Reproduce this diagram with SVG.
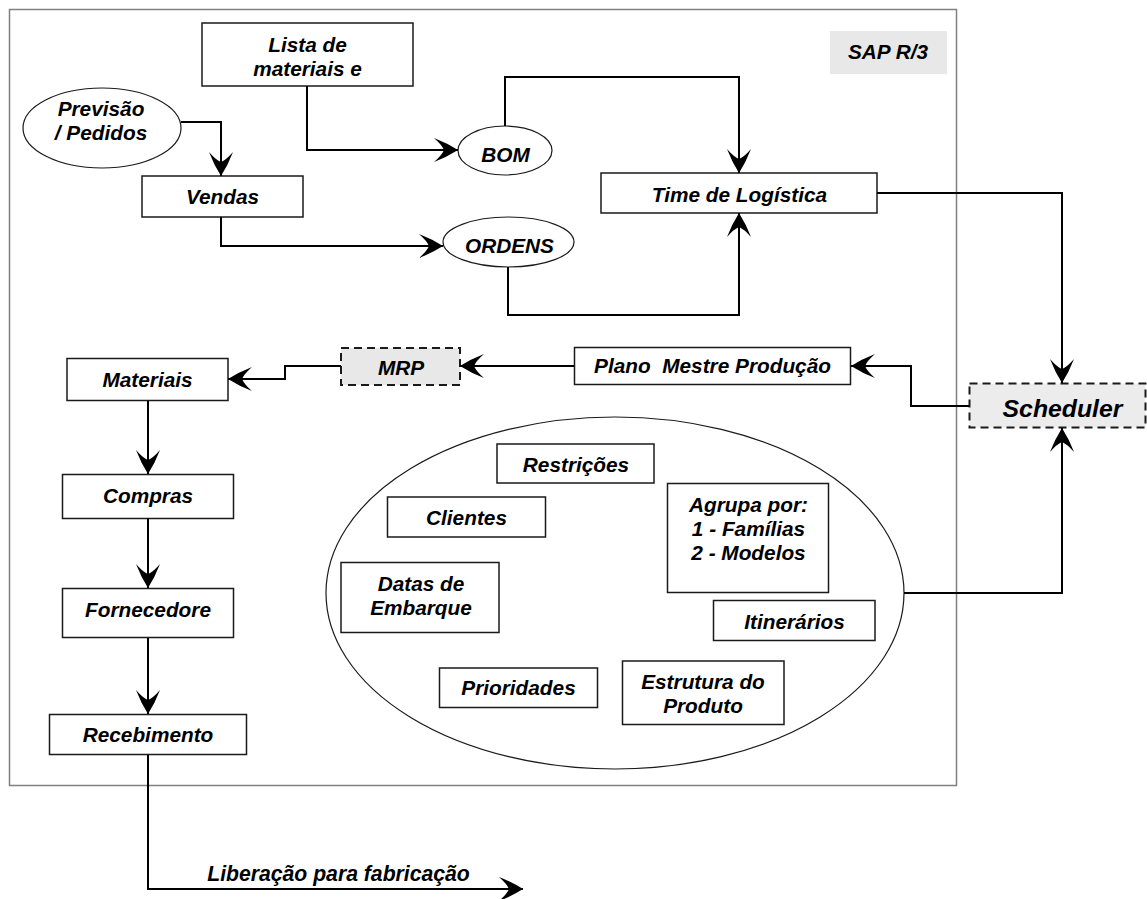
<svg xmlns="http://www.w3.org/2000/svg" width="1147" height="899" viewBox="0 0 1147 899">
<defs>
<marker id="ah" viewBox="0 0 24 24" refX="24" refY="12" markerWidth="24" markerHeight="24" markerUnits="userSpaceOnUse" orient="auto">
<path d="M24,12 Q13,5 0,0 Q8,7 10,12 Q8,17 0,24 Q13,19 24,12 Z" fill="#000"/>
</marker>
</defs>
<style>
.box{fill:#fff;stroke:#1a1a1a;stroke-width:1.5}
.dash{fill:#e8e8e8;stroke:#1a1a1a;stroke-width:2;stroke-dasharray:8 5}
.ell{fill:#fff;stroke:#1a1a1a;stroke-width:1.2}
.t{font-family:"Liberation Sans",Arial,sans-serif;font-weight:bold;font-style:italic;font-size:20.8px;fill:#000;text-anchor:middle}
.c{fill:none;stroke:#000;stroke-width:2;marker-end:url(#ah)}
</style>
<rect width="1147" height="899" fill="#fff"/>
<rect id="frame" x="9.5" y="9.5" width="947" height="776" fill="none" stroke="#808080" stroke-width="1.5"/>
<g id="sap"><rect x="830" y="31" width="117" height="43" fill="#e8e8e8"/><text class="t" x="888" y="58.5">SAP R/3</text></g>
<g id="lista"><rect class="box" x="202" y="23" width="211" height="63"/><text class="t" x="307.5" y="52">Lista de</text><text class="t" x="307.5" y="76">materiais e</text></g>
<g id="previsao"><ellipse class="ell" cx="102" cy="128" rx="79" ry="40"/><text class="t" x="101" y="116">Previsão</text><text class="t" x="101" y="140">/ Pedidos</text></g>
<g id="vendas"><rect class="box" x="142" y="176" width="161" height="41"/><text class="t" x="222.5" y="204">Vendas</text></g>
<g id="bom"><ellipse class="ell" cx="505" cy="150.5" rx="47" ry="24.5"/><text class="t" x="505.5" y="161.5">BOM</text></g>
<g id="ordens"><ellipse class="ell" cx="508.5" cy="242" rx="65.5" ry="25"/><text class="t" x="509.5" y="253">ORDENS</text></g>
<g id="time"><rect class="box" x="601" y="173" width="276" height="40"/><text class="t" x="739.5" y="201.5">Time de Logística</text></g>
<g id="scheduler"><rect class="dash" x="969.5" y="383.5" width="176" height="44" style="fill:#ececec"/><text class="t" x="1062.5" y="416.5" style="font-size:24.8px">Scheduler</text></g>
<g id="plano"><rect class="box" x="574.5" y="347.5" width="276" height="37"/><text class="t" x="712.5" y="373" xml:space="preserve">Plano  Mestre Produção</text></g>
<g id="mrp"><rect class="dash" x="341" y="348" width="119" height="37"/><text class="t" x="401" y="375">MRP</text></g>
<g id="materiais"><rect class="box" x="67" y="358.5" width="161" height="42"/><text class="t" x="147.5" y="386.5">Materiais</text></g>
<g id="compras"><rect class="box" x="62.5" y="474.5" width="171" height="44"/><text class="t" x="148" y="502.5">Compras</text></g>
<g id="fornecedore"><rect class="box" x="62.5" y="588.5" width="171" height="49"/><text class="t" x="148" y="616.5">Fornecedore</text></g>
<g id="recebimento"><rect class="box" x="49.5" y="714.5" width="197" height="40"/><text class="t" x="148" y="742">Recebimento</text></g>
<g id="grupo"><ellipse class="ell" cx="615" cy="593" rx="289" ry="176"/></g>
<g id="restricoes"><rect class="box" x="497" y="444" width="157" height="39"/><text class="t" x="576" y="471.5">Restrições</text></g>
<g id="clientes"><rect class="box" x="387.5" y="497" width="158" height="40"/><text class="t" x="466.5" y="525">Clientes</text></g>
<g id="datas"><rect class="box" x="341" y="562.5" width="158" height="70"/><text class="t" x="421" y="591">Datas de</text><text class="t" x="421" y="614.5">Embarque</text></g>
<g id="prioridades"><rect class="box" x="439.5" y="668" width="158" height="39.5"/><text class="t" x="518.5" y="695">Prioridades</text></g>
<g id="estrutura"><rect class="box" x="622.5" y="661" width="161.5" height="63.5"/><text class="t" x="703" y="688.5">Estrutura do</text><text class="t" x="703" y="713">Produto</text></g>
<g id="agrupa"><rect class="box" x="667.5" y="483.5" width="161" height="109"/><text class="t" x="748.5" y="511.5">Agrupa por:</text><text class="t" x="748.5" y="536">1 - Famílias</text><text class="t" x="748.5" y="560">2 - Modelos</text></g>
<g id="itinerarios"><rect class="box" x="713.5" y="600.5" width="161.5" height="40"/><text class="t" x="794.5" y="629">Itinerários</text></g>
<g id="liberacao"><text class="t" x="338.5" y="881" style="font-size:21.2px">Liberação para fabricação</text></g>
<g id="connectors">
<path class="c" d="M181,122 H221 V176"/>
<path class="c" d="M307,86 V150 H458"/>
<path class="c" d="M221,217 V246 H443"/>
<path class="c" d="M505,126 V77 H739 V173"/>
<path class="c" d="M508,267 V315 H739 V213"/>
<path class="c" d="M877,193 H1062 V383"/>
<path class="c" d="M969,406 H911 V366 H851"/>
<path class="c" d="M574,366 H460"/>
<path class="c" d="M341,366 H285 V379 H228"/>
<path class="c" d="M148,401 V474"/>
<path class="c" d="M148,518.5 V588"/>
<path class="c" d="M148,638 V714"/>
<path class="c" d="M148,755 V889 H523"/>
<path class="c" d="M904,593 H1062 V428"/>
</g>
</svg>
